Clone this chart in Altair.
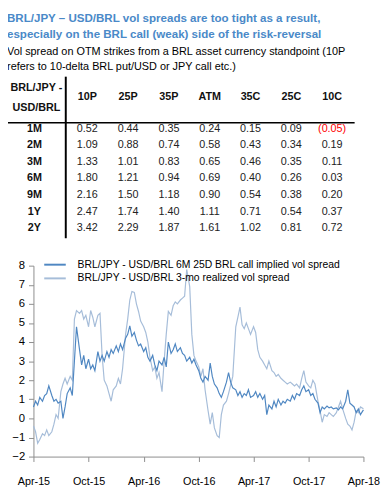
import altair as alt
import pandas as pd

SANS = "Liberation Sans, Arial, sans-serif"
TITLE_COLOR = "#4a89c8"
DARK = "#4f87c2"
LIGHT = "#a6bdd9"
AXIS_GREY = "#8c8c8c"

TITLE_LINES = ["BRL/JPY \u2013 USD/BRL vol spreads are too tight as a result,",
               "especially on the BRL call (weak) side of the risk-reversal"]
SUBTITLE_LINES = ["Vol spread on OTM strikes from a BRL asset currency standpoint (10P",
                  "refers to 10-delta BRL put/USD or JPY call etc.)"]
CORNER_LABEL = ["BRL/JPY -", "USD/BRL"]

STRIKES = ["10P", "25P", "35P", "ATM", "35C", "25C", "10C"]
TENORS = ["1M", "2M", "3M", "6M", "9M", "1Y", "2Y"]
SPREAD_1M = [0.52, 0.44, 0.35, 0.24, 0.15, 0.09, -0.05]
SPREAD_2M = [1.09, 0.88, 0.74, 0.58, 0.43, 0.34, 0.19]
SPREAD_3M = [1.33, 1.01, 0.83, 0.65, 0.46, 0.35, 0.11]
SPREAD_6M = [1.80, 1.21, 0.94, 0.69, 0.40, 0.26, 0.03]
SPREAD_9M = [2.16, 1.50, 1.18, 0.90, 0.54, 0.38, 0.20]
SPREAD_1Y = [2.47, 1.74, 1.40, 1.11, 0.71, 0.54, 0.37]
SPREAD_2Y = [3.42, 2.29, 1.87, 1.61, 1.02, 0.81, 0.72]
TABLE = [SPREAD_1M, SPREAD_2M, SPREAD_3M, SPREAD_6M, SPREAD_9M, SPREAD_1Y, SPREAD_2Y]

SERIES = ["BRL/JPY - USD/BRL 6M 25D BRL call implied vol spread",
          "BRL/JPY - USD/BRL 3-mo realized vol spread"]

# weekly observation dates (1st, 8th, 15th, 22nd of each month), Apr-15 .. Apr-18
MONTHS = [(2015, m) for m in range(4, 13)] + [(2016, m) for m in range(1, 13)] + \
         [(2017, m) for m in range(1, 13)] + [(2018, m) for m in range(1, 4)]
DAYS = [1, 8, 15, 22]
DATES = [f"{y}-{m:02d}-{d:02d}" for (y, m) in MONTHS for d in DAYS] + ["2018-04-01"]

IMPLIED = [
    0.6, 0.9, 0.7, 1.1,  0.9, 1.2, 1.3, 1.7,  1.2, 0.9, 1.0, 0.8,
    0.9, 0.0, 0.6, 1.3,  1.6, 1.2, 3.0, 4.8,  3.6, 2.8, 3.3, 2.6,
    3.1, 2.6, 2.8, 2.5,  3.5, 3.0, 3.3, 3.0,  3.5, 3.2, 3.6, 3.4,
    3.8, 3.5, 3.9, 3.6,  4.2, 4.4, 4.85, 4.3, 4.5, 4.1, 3.8, 3.9,
    3.5, 3.7, 3.2, 3.0,  3.3, 2.8, 2.5, 3.0,  2.8, 3.2, 2.7, 4.0,
    3.4, 3.6, 3.9, 3.5,  3.7, 3.4, 3.3, 3.0,  3.2, 2.9, 3.1, 2.8,
    2.5, 2.1, 1.9, 2.2,  2.0, 2.9, 2.2, 1.8,  1.6, 1.3, 1.1, 1.4,
    1.9, 2.4, 1.9, 1.6,  1.5, 1.2, 1.4, 1.1,  1.3, 1.2, 1.5, 1.1,
    1.2, 1.4, 1.1, 1.3,  1.0, 1.2, 0.2, 0.7,  0.5, 0.9, 0.6, 1.0,
    0.7, 0.9, 0.8, 1.0,  0.9, 1.2, 1.0, 1.3,  1.2, 1.5, 1.7, 1.4,
    1.5, 1.2, 1.3, 1.0,  0.8, 0.3, 0.6, 0.5,  0.65, 0.55, 0.6, 0.5,
    0.55, 0.45, 0.6, 0.5, 0.9, 1.5, 0.8, 0.7, 0.6, 0.3, 0.5, 0.2,
    0.45,
]
REALIZED = [
    -0.4, -0.7, -1.3, -1.1, -0.8, -0.9, -0.6, -0.9, -0.7, -0.3, 0.2, 0.0,
    1.4, 1.8, 2.1, 1.8,  2.2, 2.0, 5.2, 5.65,  5.5, 5.65, 5.2, 5.4,
    4.8, 5.65, 5.3, 4.8,  5.4, 5.5, 3.3, 2.0,  1.7, 1.3, 0.9, 1.5,
    1.7, 2.1, 1.8, 2.6,  4.4, 5.2, 6.2, 6.65,  6.6, 6.0, 5.6, 5.1,
    4.8, 4.5, 4.0, 3.2,  2.5, 2.7, 2.1, 2.4,  1.4, 3.0, 4.4, 5.6,
    5.4, 5.9, 6.1, 6.0,  6.2, 6.3, 6.4, 7.8,  6.9, 4.4, 3.3, 3.0,
    2.7, 2.2, 2.6, 1.5,  0.4, -0.3, 0.3, -0.5, -0.9, -1.0, 0.2, 0.7,
    0.9, 1.3, 1.75, 2.2,  4.8, 5.3, 5.83, 4.9,  4.7, 5.0, 4.7, 4.4,
    4.8, 4.5, 3.6, 3.2,  3.0, 2.8, 2.6, 3.0,  2.5, 2.4, 2.2, 2.3,
    2.1, 2.0, 1.9, 1.8,  1.9, 1.8, 1.7, 1.8,  1.6, 2.1, 2.5, 1.9,
    1.7, 1.6, 2.0, 1.8,  0.9, 0.4, -0.2, 0.2,  0.1, 0.3, 0.2, 0.1,
    0.3, 0.6, 0.9, 0.5,  0.0, -0.3, -0.4, -0.6, -0.2, 0.4, 0.3, 0.6,
    0.5,
]
Y_TICKS = list(range(-2, 9))
X_TICKS = [(2015, 4), (2015, 10), (2016, 4), (2016, 10), (2017, 4), (2017, 10), (2018, 4)]

# ---------- frames ----------
cells = pd.DataFrame([
    {"tenor": t, "strike": s, "value": v,
     "label": f"({abs(v):.2f})" if v < 0 else f"{v:.2f}"}
    for t, row in zip(TENORS, TABLE) for s, v in zip(STRIKES, row)
])
dates = pd.to_datetime(DATES)
implied_df = pd.DataFrame({"date": dates, "value": IMPLIED, "series": SERIES[0]})
realized_df = pd.DataFrame({"date": dates, "value": REALIZED, "series": SERIES[1]})
legend_df = pd.DataFrame({"series": SERIES})

W, H = 337, 453
col_scale = alt.Scale(type="point", domain=STRIKES, range=[55, 305], padding=0)
row_scale = alt.Scale(type="point", domain=TENORS, range=[118, 220], padding=0)
color_scale = alt.Scale(domain=SERIES, range=[DARK, LIGHT])


def line_text(txt, x, y, **kw):
    return alt.Chart(pd.DataFrame({"t": [txt]})).mark_text(
        align="left", baseline="alphabetic", **kw
    ).encode(x=alt.value(x), y=alt.value(y), text="t:N")


title1 = line_text(TITLE_LINES[0], -27, 9.5, font=SANS, fontSize=11.8, fontWeight="bold", color=TITLE_COLOR)
title2 = line_text(TITLE_LINES[1], -27, 25, font=SANS, fontSize=11.8, fontWeight="bold", color=TITLE_COLOR)
sub1 = line_text(SUBTITLE_LINES[0], -27, 42.5, font=SANS, fontSize=11.1, color="#000")
sub2 = line_text(SUBTITLE_LINES[1], -27, 58, font=SANS, fontSize=11.1, color="#000")

corner = alt.Chart(pd.DataFrame({"t": CORNER_LABEL})).mark_text(
    font=SANS, fontSize=11, fontWeight="bold", color="#111", baseline="middle"
).encode(
    x=alt.value(3),
    y=alt.Y("t:N", scale=alt.Scale(type="point", domain=CORNER_LABEL, range=[77, 97], padding=0), axis=None),
    text="t:N",
)

header = alt.Chart(pd.DataFrame({"strike": STRIKES})).mark_text(
    font=SANS, fontSize=11, fontWeight="bold", color="#111", baseline="middle"
).encode(
    x=alt.X("strike:N", scale=col_scale, axis=None),
    y=alt.value(86),
    text="strike:N",
)

row_labels = alt.Chart(pd.DataFrame({"tenor": TENORS})).mark_text(
    font=SANS, fontSize=11, fontWeight="bold", color="#111", baseline="middle"
).encode(
    x=alt.value(1),
    y=alt.Y("tenor:N", scale=row_scale, axis=None),
    text="tenor:N",
)

cell_text = alt.Chart(cells).mark_text(
    font=SANS, fontSize=11, baseline="middle"
).encode(
    x=alt.X("strike:N", scale=col_scale, axis=None),
    y=alt.Y("tenor:N", scale=row_scale, axis=None),
    text="label:N",
    color=alt.condition("datum.value < 0", alt.value("#ff0000"), alt.value("#222222")),
)

one = pd.DataFrame({"k": [0]})
vrule = alt.Chart(one).mark_rule(color="#000", strokeWidth=2).encode(
    x=alt.value(33), y=alt.value(65), y2=alt.value(230))
hrule = alt.Chart(one).mark_rule(color="#000", strokeWidth=1.5).encode(
    x=alt.value(-27), x2=alt.value(328), y=alt.value(112))

x_scale = alt.Scale(domain=[alt.DateTime(year=2015, month=4, date=1),
                            alt.DateTime(year=2018, month=4, date=1)])
y_scale = alt.Scale(domain=[-2, 8], range=[H, 258])

realized = alt.Chart(realized_df).mark_line(strokeWidth=1.2).encode(
    x=alt.X("date:T", scale=x_scale, axis=None),
    y=alt.Y("value:Q", scale=y_scale, axis=None),
    color=alt.Color("series:N", scale=color_scale, legend=None),
)

implied = alt.Chart(implied_df).mark_line(strokeWidth=1.2).encode(
    x=alt.X("date:T", scale=x_scale, axis=alt.Axis(
        values=[alt.DateTime(year=y, month=m, date=1) for (y, m) in X_TICKS],
        format="%b-%y", labelFont=SANS, labelFontSize=11, labelColor="#000",
        domainColor=AXIS_GREY, tickColor=AXIS_GREY, tickSize=5, labelPadding=15,
        grid=False, title=None, labelFlush=False, labelOverlap=False)),
    y=alt.Y("value:Q", scale=y_scale, axis=alt.Axis(
        values=Y_TICKS, labelFont=SANS, labelFontSize=11.5, labelColor="#000",
        domainColor=AXIS_GREY, tickColor=AXIS_GREY, tickSize=5, labelPadding=4,
        grid=False, title=None)),
    color=alt.Color("series:N", scale=color_scale, legend=None),
)

legend_y = alt.Scale(type="point", domain=SERIES, range=[257, 271], padding=0)
legend_rule = alt.Chart(legend_df).mark_rule(strokeWidth=2).encode(
    x=alt.value(11), x2=alt.value(33),
    y=alt.Y("series:N", scale=legend_y, axis=None),
    color=alt.Color("series:N", scale=color_scale, legend=None),
)
legend_text = alt.Chart(legend_df).mark_text(
    align="left", baseline="middle", font=SANS, fontSize=10.6, color="#000"
).encode(
    x=alt.value(45),
    y=alt.Y("series:N", scale=legend_y, axis=None),
    text="series:N",
)

chart = alt.layer(
    title1, title2, sub1, sub2, corner, header, row_labels, cell_text, vrule, hrule,
    realized, implied, legend_rule, legend_text
).resolve_scale(
    x="independent", y="independent"
).properties(
    width=W, height=H,
    padding={"left": 26, "right": 21, "top": 0, "bottom": 30},
    autosize=alt.AutoSizeParams(type="none"),
).configure_view(stroke=None)

chart.save("out.html", embed_options={"renderer": "svg", "actions": False})
